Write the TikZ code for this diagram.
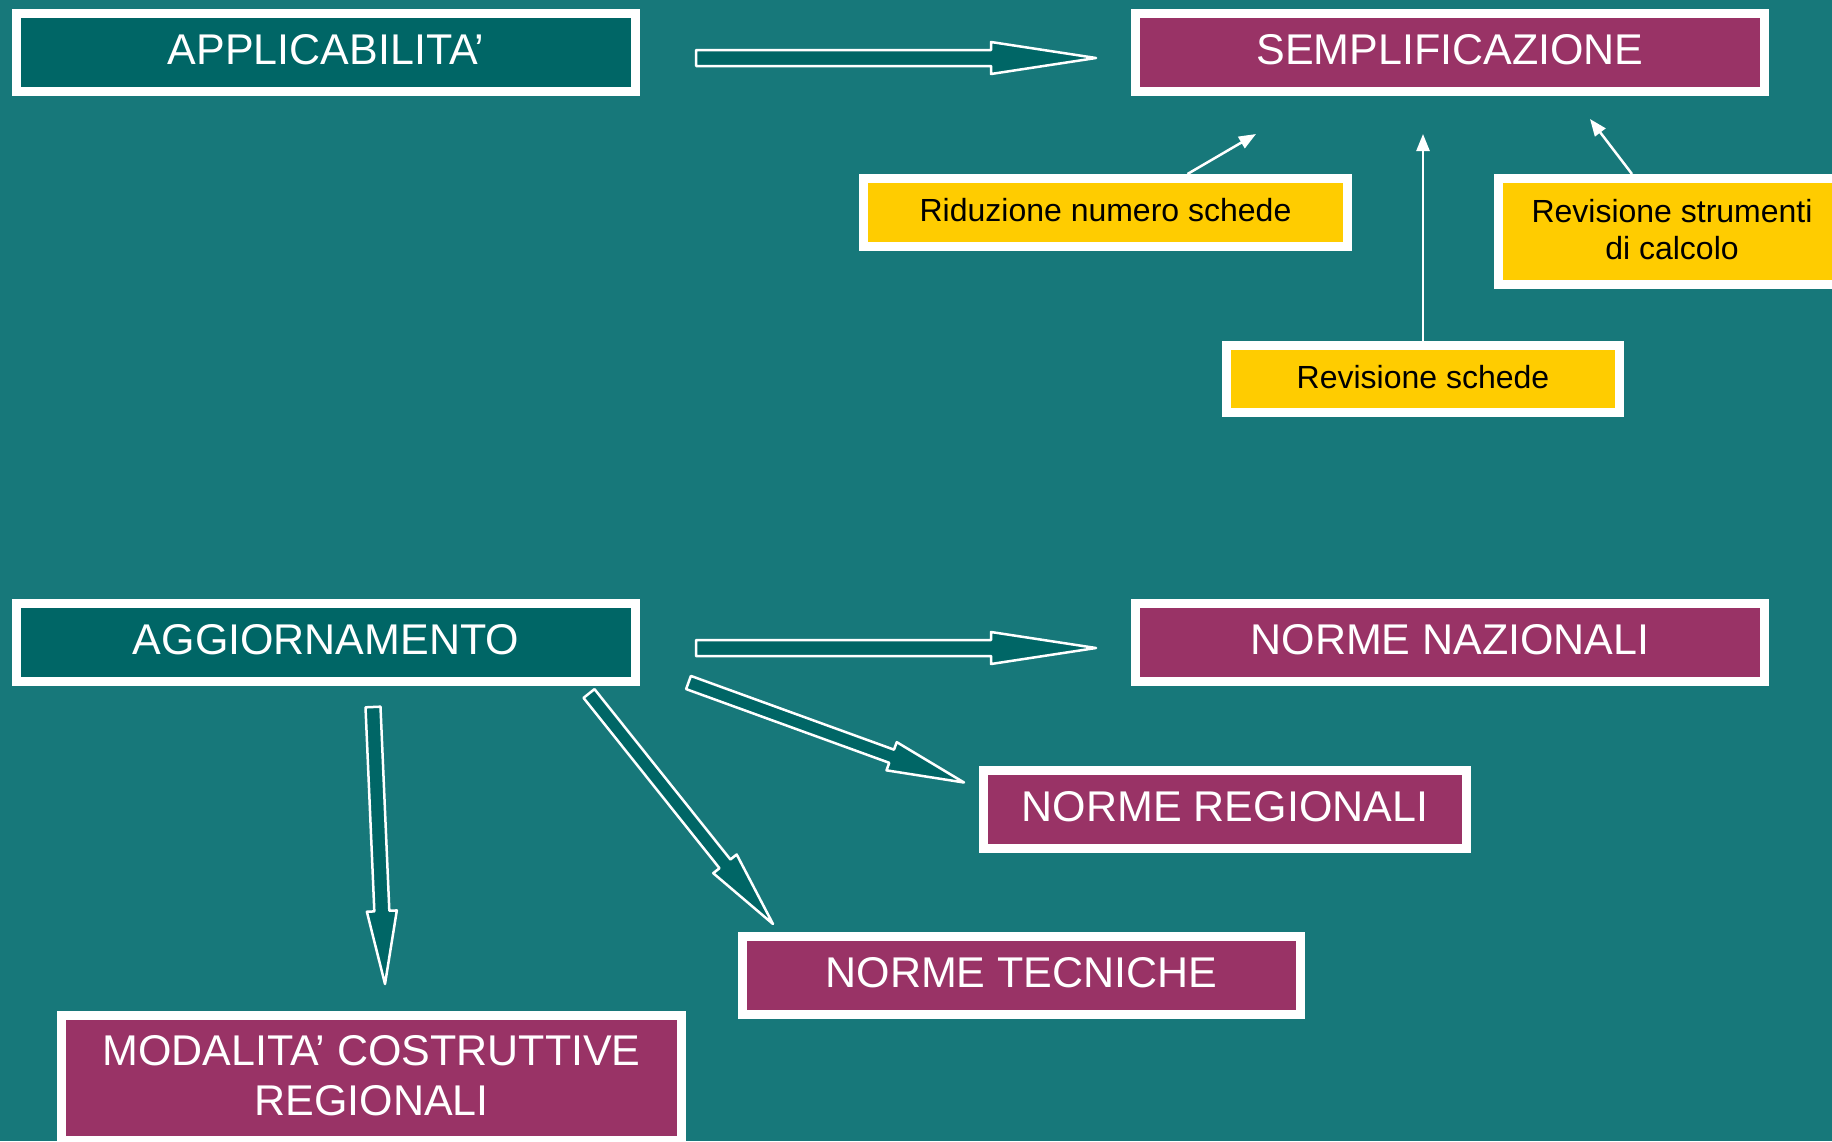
\documentclass[tikz,border=0pt]{standalone}
\usepackage{fontspec}
\setmainfont{Liberation Sans}
\usetikzlibrary{calc,arrows.meta}

\definecolor{bgteal}{HTML}{17787A}
\definecolor{boxteal}{HTML}{006666}
\definecolor{plum}{HTML}{993366}
\definecolor{noteyellow}{HTML}{FFCC00}

\newcommand{\boxfont}{\fontsize{43}{50}\selectfont}
\newcommand{\notefont}{\fontsize{32}{37}\selectfont}

% tail, tip, shaft half width, head half width, head length
\newcommand{\blockarrow}[5]{
    \coordinate (hb) at ($(#2)!#5!(#1)$);
    \filldraw[fill=boxteal, draw=white, line width=2.5pt, line join=round]
        ($(#1)!#3!90:(#2)$) -- ($(hb)!#3!90:(#2)$) -- ($(hb)!#4!90:(#2)$) -- (#2)
        -- ($(hb)!#4!-90:(#2)$) -- ($(hb)!#3!-90:(#2)$) -- ($(#1)!#3!-90:(#2)$) -- cycle;
}

\begin{document}
\begin{tikzpicture}[x=1pt, y=-1pt,
    tealbox/.style={draw=white, line width=9pt, fill=boxteal, text=white, font=\boxfont, inner sep=0pt, align=center, text depth=6pt},
    plumbox/.style={tealbox, fill=plum},
    notebox/.style={tealbox, fill=noteyellow, text=black, font=\notefont, text depth=5pt},
    notearrow/.style={draw=white, line width=2.5pt, -{Triangle[length=17pt, width=13pt]}}]

    \useasboundingbox (0,0) rectangle (1832,1141);
    \clip (0,0) rectangle (1832,1141);
    \fill[bgteal] (0,0) rectangle (1832,1141);

    \node[tealbox, minimum width=619pt, minimum height=78pt] (appl) at (326,52.5) {APPLICABILITA’};
    \node[tealbox, minimum width=619pt, minimum height=78pt] (aggi) at (326,642.5) {AGGIORNAMENTO};

    \node[plumbox, minimum width=629pt, minimum height=78pt] (sempl) at (1450,52.5) {SEMPLIFICAZIONE};
    \node[plumbox, minimum width=629pt, minimum height=78pt] (naz) at (1450,642.5) {NORME NAZIONALI};
    \node[plumbox, minimum width=483pt, minimum height=78pt] (reg) at (1225,809.5) {NORME REGIONALI};
    \node[plumbox, minimum width=558pt, minimum height=78pt] (tec) at (1021.5,975.5) {NORME TECNICHE};
    \node[plumbox, minimum width=620pt, minimum height=125pt] (mod) at (371.5,1078) {MODALITA’ COSTRUTTIVE\\REGIONALI};

    \node[notebox, minimum width=484pt, minimum height=68pt] (rid) at (1105.5,212.5) {Riduzione numero schede};
    \node[notebox, minimum width=393pt, minimum height=67pt] (rsch) at (1423,379) {Revisione schede};
    \node[notebox, minimum width=347pt, minimum height=106pt] (rstr) at (1672,231.5) {Revisione strumenti\\di calcolo};

    \coordinate (in1) at (1256,134);
    \coordinate (in2) at (1423,134);
    \coordinate (in3) at (1590,119);

    \draw[notearrow] ([xshift=82pt]rid.north) -- (in1);
    \draw[notearrow] (rsch.north) -- (in2);
    \draw[notearrow] ([xshift=-40pt]rstr.north) -- (in3);

    \coordinate (t1) at (696,58);
    \coordinate (p1) at (1096,58);
    \coordinate (t2) at (696,648);
    \coordinate (p2) at (1096,648);
    \coordinate (t3) at (688.5,682.5);
    \coordinate (p3) at (964,782.5);
    \coordinate (t4) at (589,693.5);
    \coordinate (p4) at (773,924);
    \coordinate (t5) at (373,707);
    \coordinate (p5) at (385,984);

    \blockarrow{t1}{p1}{8pt}{16pt}{105pt}
    \blockarrow{t2}{p2}{8pt}{16pt}{105pt}
    \blockarrow{t3}{p3}{7pt}{15pt}{77pt}
    \blockarrow{t4}{p4}{7pt}{15pt}{77pt}
    \blockarrow{t5}{p5}{7.5pt}{15pt}{73pt}
\end{tikzpicture}
\end{document}
